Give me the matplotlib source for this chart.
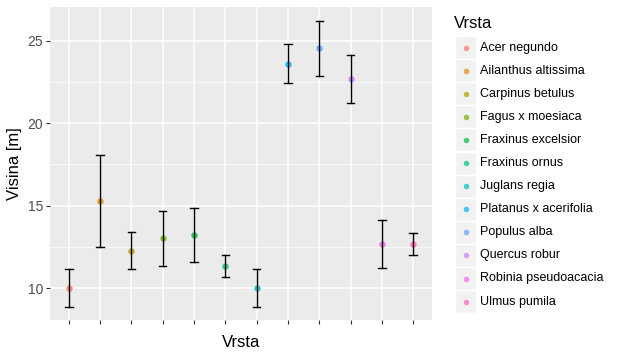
import matplotlib as mpl
mpl.use('Agg')
from matplotlib import pyplot as plt
from matplotlib.patches import Rectangle

vrste = ['Acer negundo', 'Ailanthus altissima', 'Carpinus betulus',
         'Fagus x moesiaca', 'Fraxinus excelsior', 'Fraxinus ornus',
         'Juglans regia', 'Platanus x acerifolia', 'Populus alba',
         'Quercus robur', 'Robinia pseudoacacia', 'Ulmus pumila']
visina = [10.0, 15.3, 12.25, 13.03, 13.2, 11.33, 10.0, 23.6, 24.58, 22.7, 12.67, 12.67]
donja = [8.85, 12.5, 11.15, 11.33, 11.58, 10.67, 8.85, 22.45, 22.85, 21.24, 11.2, 12.0]
gornja = [11.15, 18.06, 13.4, 14.67, 14.85, 12.0, 11.15, 24.8, 26.2, 24.15, 14.12, 13.33]
boje = ['#F8766D', '#DE8C00', '#B79F00', '#7CAE00', '#00BA38', '#00C08B',
        '#00BFC4', '#00B4F0', '#619CFF', '#C77CFF', '#F564E3', '#FF64B0']

plt.rc('font', family=['Liberation Sans', 'DejaVu Sans'])
W, H = 619, 352
fig = plt.figure(figsize=(W / 100, H / 100), dpi=100)
ax = fig.add_axes([50 / W, (H - 320) / H, 382 / W, 313 / H])
ax.set_facecolor('#EBEBEB')

x = list(range(1, len(vrste) + 1))
cap = 0.12
for i in range(len(vrste)):
    ax.scatter(x[i], visina[i], s=22, color=boje[i], alpha=0.8, zorder=3, linewidths=0)
    ax.plot([x[i], x[i]], [donja[i], gornja[i]], color='black', lw=1.0, zorder=4)
    ax.plot([x[i] - cap, x[i] + cap], [donja[i]] * 2, color='black', lw=1.0, zorder=4)
    ax.plot([x[i] - cap, x[i] + cap], [gornja[i]] * 2, color='black', lw=1.0, zorder=4)

ax.set_xlim(0.4, 12.6)
ax.set_ylim(8.06, 27.06)
ax.set_xticks(x)
ax.set_xticklabels([''] * len(x))
ax.set_yticks([10, 15, 20, 25])
ax.set_yticks([12.5, 17.5, 22.5], minor=True)
ax.grid(which='major', color='white', lw=1.1, zorder=0)
ax.grid(which='minor', axis='y', color='white', lw=0.5, zorder=0)
ax.set_axisbelow(True)
for s in ax.spines.values():
    s.set_visible(False)
ax.tick_params(which='major', length=3, color='#333333', labelsize=10, labelcolor='#4D4D4D', pad=2)
ax.tick_params(which='minor', length=0)
ax.set_xlabel('Vrsta', fontsize=12, labelpad=6)
ax.set_ylabel('Visina [m]', fontsize=12, labelpad=4)

# legenda
lg = fig.add_axes([450 / W, 0, (W - 450) / W, 1])
lg.set_xlim(450, W)
lg.set_ylim(H, 0)
lg.axis('off')
lg.text(454, 23, 'Vrsta', fontsize=12, va='center', ha='left')
for i, v in enumerate(vrste):
    yc = 47.5 + i * 23.1
    lg.add_patch(Rectangle((455, yc - 11.5), 21, 23, facecolor='#F2F2F2', edgecolor='white', lw=1))
    lg.scatter(465.5, yc, s=16, color=boje[i], alpha=0.7, linewidths=0, zorder=3)
    lg.text(480, yc, v, fontsize=9, va='center', ha='left', color='black')

plt.savefig('out.png', dpi=100)
